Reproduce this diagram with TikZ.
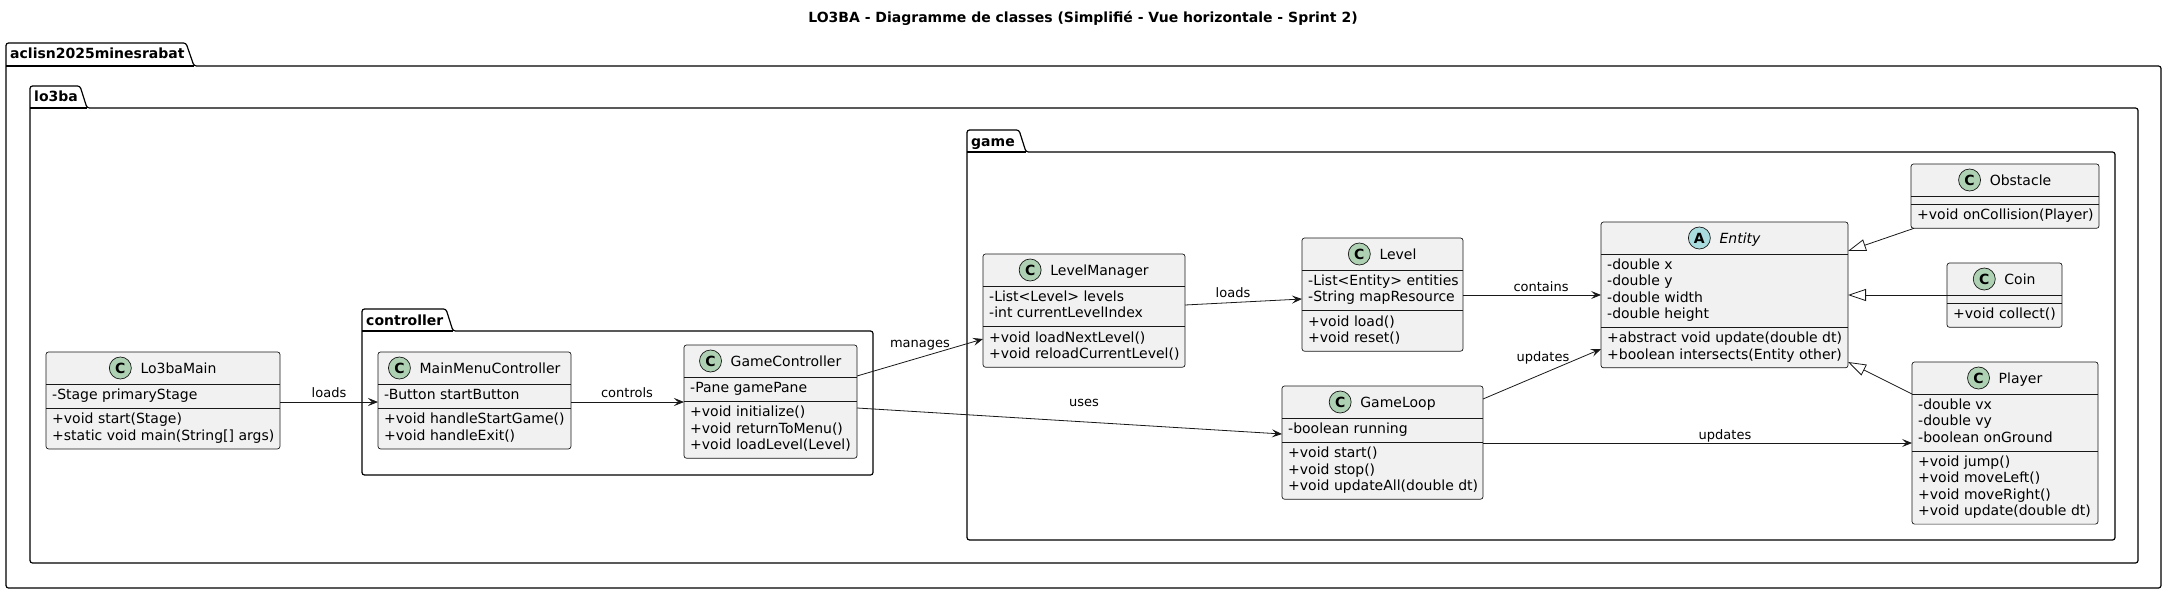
\documentclass[tikz,border=0pt]{standalone}
\usepackage{fontspec}
\setmainfont{DejaVu Sans}[ItalicFont={DejaVu Sans Oblique},BoldFont={DejaVu Sans Bold},BoldItalicFont={DejaVu Sans Bold Oblique}]
\usetikzlibrary{arrows.meta,calc}

\definecolor{clsfill}{HTML}{F1F1F1}
\definecolor{clsline}{HTML}{181818}
\definecolor{spotCcol}{HTML}{ADD1B2}
\definecolor{spotAcol}{HTML}{A9DCDF}

\newcommand{\clsfont}{\fontsize{14}{16.3}\selectfont}
\newcommand{\lblfont}{\fontsize{13}{15}\selectfont}

\tikzset{
  clsbox/.style={draw=clsline, fill=clsfill, rounded corners=2.5pt, line width=0.7pt, inner sep=0pt, outer sep=0pt},
  clssep/.style={draw=clsline, line width=0.7pt},
  clsname/.style={inner sep=0pt, font=\clsfont},
  clstext/.style={anchor=north west, align=left, inner sep=0pt, font=\clsfont},
  spotC/.style={circle, draw=clsline, fill=spotCcol, line width=0.7pt, minimum size=22pt, inner sep=0pt, font=\fontsize{14}{14}\selectfont\bfseries},
  spotA/.style={circle, draw=clsline, fill=spotAcol, line width=0.7pt, minimum size=22pt, inner sep=0pt, font=\fontsize{14}{14}\selectfont\bfseries},
  pkg/.style={draw=black, line width=1.2pt, rounded corners=2.5pt, line join=round},
  pkgline/.style={draw=black, line width=1.2pt},
  pkglbl/.style={inner sep=0pt, anchor=base west, font=\fontsize{14}{16}\selectfont\bfseries},
  titlelbl/.style={inner sep=0pt, anchor=base, font=\fontsize{14}{16}\selectfont\bfseries},
  assoc/.style={draw=clsline, line width=0.8pt, -{Stealth[length=10pt,width=8pt,inset=4pt]}},
  inherit/.style={draw=clsline, line width=0.8pt, -{Triangle[length=18pt,width=12pt,fill=white]}},
  lbl/.style={inner sep=0pt, font=\lblfont, anchor=base},
}

% #1 id, #2 (x,y), #3 width, #4 spot letter, #5 name, #6 n attrs, #7 attrs, #8 n ops, #9 ops
\newcommand{\umlclass}[9]{%
  \pgfmathsetlengthmacro{\clsH}{(32+16.3*#6+8+16.3*#8+8)*1pt}%
  \pgfmathsetlengthmacro{\clsSb}{(32+16.3*#6+8)*1pt}%
  \pgfmathsetlengthmacro{\clsSc}{(32+16.3*#6+12)*1pt}%
  \node[clsbox, minimum width=#3pt, minimum height=\clsH, anchor=north west] (#1) at #2 {};
  \draw[clssep] ([yshift=-32pt]#1.north west) -- ([yshift=-32pt]#1.north east);
  \draw[clssep] ([yshift=-\clsSb]#1.north west) -- ([yshift=-\clsSb]#1.north east);
  \node[clsname, anchor=base] (#1-name) at ([yshift=-21pt]#1.north) {\hspace*{31pt}#5};
  \node[spot#4] (#1-spot) at ([xshift=11pt,yshift=5pt]#1-name.base west) {#4};
  \node[clstext] (#1-attrs) at ([xshift=6pt,yshift=-36pt]#1.north west) {#7};
  \node[clstext] (#1-ops) at ([xshift=6pt,yshift=-\clsSc]#1.north west) {#9};
}

\begin{document}
\begin{tikzpicture}[x=1pt,y=-1pt]
\useasboundingbox (0,0) rectangle (2166,594);

\node[titlelbl] (title) at (1083,23) {LO3BA - Diagramme de classes (Simplifié - Vue horizontale - Sprint 2)};

% packages
\draw[pkg] (6,588) -- (6,43) -- (186,43) -- (194,66) -- (2161,66) -- (2161,588) -- cycle;
\draw[pkgline] (6,66) -- (194,66);
\node[pkglbl] (pk-outer) at (10,59) {aclisn2025minesrabat};

\draw[pkg] (30,563) -- (30,86) -- (80,86) -- (87,108) -- (2138,108) -- (2138,563) -- cycle;
\draw[pkgline] (30,108) -- (87,108);
\node[pkglbl] (pk-lo3ba) at (34,102) {lo3ba};

\draw[pkg] (362,475) -- (362,309) -- (446,309) -- (453,331) -- (873,331) -- (873,475) -- cycle;
\draw[pkgline] (362,331) -- (453,331);
\node[pkglbl] (pk-ctrl) at (366,325) {controller};

\draw[pkg] (967,540) -- (967,130) -- (1019,130) -- (1026,152) -- (2115,152) -- (2115,540) -- cycle;
\draw[pkgline] (967,152) -- (1026,152);
\node[pkglbl] (pk-game) at (971,146) {game};

% classes
\umlclass{lo3}{(46,352)}{234}{C}{Lo3baMain}{1}{\strut -Stage primaryStage}{2}{\strut +void start(Stage)\\\strut +static void main(String[] args)}
\umlclass{mmc}{(378,352)}{193}{C}{MainMenuController}{1}{\strut -Button startButton}{2}{\strut +void handleStartGame()\\\strut +void handleExit()}
\umlclass{gc}{(684,345)}{173}{C}{GameController}{1}{\strut -Pane gamePane}{3}{\strut +void initialize()\\\strut +void returnToMenu()\\\strut +void loadLevel(Level)}
\umlclass{lm}{(983,254)}{202}{C}{LevelManager}{2}{\strut -List<Level> levels\\\strut -int currentLevelIndex}{2}{\strut +void loadNextLevel()\\\strut +void reloadCurrentLevel()}
\umlclass{lvl}{(1302,238)}{161}{C}{Level}{2}{\strut -List<Entity> entities\\\strut -String mapResource}{2}{\strut +void load()\\\strut +void reset()}
\umlclass{gl}{(1282,386)}{201}{C}{GameLoop}{1}{\strut -boolean running}{3}{\strut +void start()\\\strut +void stop()\\\strut +void updateAll(double dt)}
\umlclass{ent}{(1601,222)}{247}{A}{\itshape Entity}{4}{\strut -double x\\\strut -double y\\\strut -double width\\\strut -double height}{2}{\strut +abstract void update(double dt)\\\strut +boolean intersects(Entity other)}
\umlclass{obs}{(1911,164)}{188}{C}{Obstacle}{0}{}{1}{\strut +void onCollision(Player)}
\umlclass{coin}{(1947,263)}{115}{C}{Coin}{0}{}{1}{\strut +void collect()}
\umlclass{ply}{(1912,362)}{186}{C}{Player}{3}{\strut -double vx\\\strut -double vy\\\strut -boolean onGround}{4}{\strut +void jump()\\\strut +void moveLeft()\\\strut +void moveRight()\\\strut +void update(double dt)}

% connectors
\draw[assoc] ([yshift=-50pt]lo3.north east) -- ([yshift=-50pt]mmc.north west);
\draw[assoc] ([yshift=-50pt]mmc.north east) -- ([yshift=-57pt]gc.north west);
\draw[assoc] ([yshift=-31pt]gc.north east) -- ([yshift=-85pt]lm.north west);
\draw[assoc] ([yshift=-63pt]gc.north east) -- ([yshift=-48pt]gl.north west);
\draw[assoc] ([yshift=-51pt]lm.north east) -- ([yshift=-61pt]lvl.north west);
\draw[assoc] ([yshift=-57pt]lvl.north east) -- ([yshift=-73pt]ent.north west);
\draw[assoc] ([yshift=-13pt]gl.north east) -- ([yshift=-127pt]ent.north west);
\draw[assoc] ([yshift=-57pt]gl.north east) -- ([yshift=-81pt]ply.north west);
\draw[inherit] ([xshift=3pt]obs.south west) -- ([yshift=-29pt]ent.north east);
\draw[inherit] ([yshift=-32pt]coin.north west) -- ([yshift=-73pt]ent.north east);
\draw[inherit] ([yshift=-32pt]ply.north west) -- ([yshift=-140pt]ent.north east);

% labels
\node[lbl] (l-loads1) at (329,397) {loads};
\node[lbl] (l-controls) at (627,397.5) {controls};
\node[lbl] (l-manages) at (920,347.5) {manages};
\node[lbl] (l-uses) at (1084,406.5) {uses};
\node[lbl] (l-loads2) at (1233,297.5) {loads};
\node[lbl] (l-contains) at (1541,291.5) {contains};
\node[lbl] (l-updates1) at (1543,361.5) {updates};
\node[lbl] (l-updates2) at (1725,439.5) {updates};
\end{tikzpicture}
\end{document}
